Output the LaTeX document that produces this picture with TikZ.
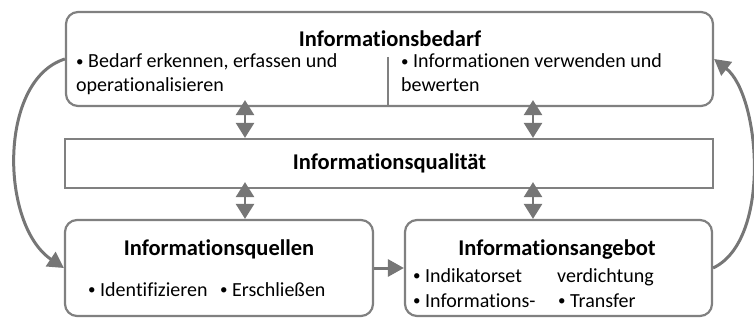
\documentclass[tikz,border=0pt]{standalone}
\usepackage{fontspec}
\setmainfont{Carlito}[RawFeature=-liga]
\usetikzlibrary{arrows.meta,calc}
\definecolor{framegray}{RGB}{128,128,128}
\definecolor{arrowgray}{RGB}{118,118,118}
% small bullet for the list items
\newcommand{\itemdot}{\raisebox{0.08em}{\scalebox{0.75}{•}}}

\begin{document}
\begin{tikzpicture}[x=1pt,y=-1pt,
  panel/.style={draw=framegray, line width=2.2pt, rounded corners=12pt, inner sep=0pt},
  band/.style={draw=framegray, line width=2.2pt, inner sep=0pt},
  title/.style={font=\fontsize{22.5}{26}\selectfont\bfseries, anchor=base, inner sep=0pt},
  body/.style={font=\fontsize{20}{24}\selectfont, anchor=base west, inner sep=0pt},
  flow/.style={draw=arrowgray, line width=3pt, -{Triangle[length=16pt,width=17pt]}},
  link/.style={draw=arrowgray, line width=2.6pt,
    {Triangle[length=15pt,width=18pt]}-{Triangle[length=15pt,width=18pt]}},
  divider/.style={draw=framegray, line width=1.6pt},
]
\useasboundingbox (0,0) rectangle (754,320);

% boxes
\node[panel, minimum width=647pt, minimum height=94pt] (bedarf) at (389.5,59) {};
\node[band,  minimum width=648pt, minimum height=49pt] (qual)   at (389,163.5) {};
\node[panel, minimum width=308pt, minimum height=96pt] (quellen) at (219,268) {};
\node[panel, minimum width=307pt, minimum height=96pt] (angebot) at (558.5,268) {};

% Informationsbedarf
\node[title] (tBedarf) at (390,47) {Informationsbedarf};
\coordinate (divTop) at (388,57);
\draw[divider] (divTop) -- (divTop |- bedarf.south);
\node[body] (b1) at (76,68) {\itemdot\ Bedarf erkennen, erfassen und};
\node[body] (b2) at (76,92) {operationalisieren};
\node[body] (b3) at (401,68) {\itemdot\ Informationen verwenden und};
\node[body] (b4) at (401,92) {bewerten};

% Informationsqualität
\node[title] (tQual) at (389.5,170) {Informationsqualität};

% Informationsquellen
\node[title] (tQuellen) at (219,255) {Informationsquellen};
\node[body] (q1) at (88,296) {\itemdot\ Identifizieren};
\node[body] (q2) at (220,296) {\itemdot\ Erschließen};

% Informationsangebot
\node[title] (tAngebot) at (557,255) {Informationsangebot};
\node[body] (a1) at (413,282) {\itemdot\ Indikatorset};
\node[body] (a2) at (557,282) {verdichtung};
\node[body] (a3) at (413,307) {\itemdot\ Informations-};
\node[body] (a4) at (558,307) {\itemdot\ Transfer};

% double arrows between the layers
\coordinate (colL) at (245,0);
\coordinate (colR) at (533,0);
\draw[link] ($(bedarf.south -| colL)+(0,-7)$) -- (qual.north -| colL);
\draw[link] ($(bedarf.south -| colR)+(0,-7)$) -- (qual.north -| colR);
\draw[link] ($(qual.south -| colL)+(0,-7)$) -- (quellen.north -| colL);
\draw[link] ($(qual.south -| colR)+(0,-7)$) -- (angebot.north -| colR);

% flow arrows
\draw[flow] (quellen.east) -- (angebot.west);
\draw[flow] (bedarf.west) .. controls (-2,80) and (0,225) .. (quellen.west);
\draw[flow] (angebot.east) .. controls (772,240) and (760,95) .. (bedarf.east);
\end{tikzpicture}
\end{document}
